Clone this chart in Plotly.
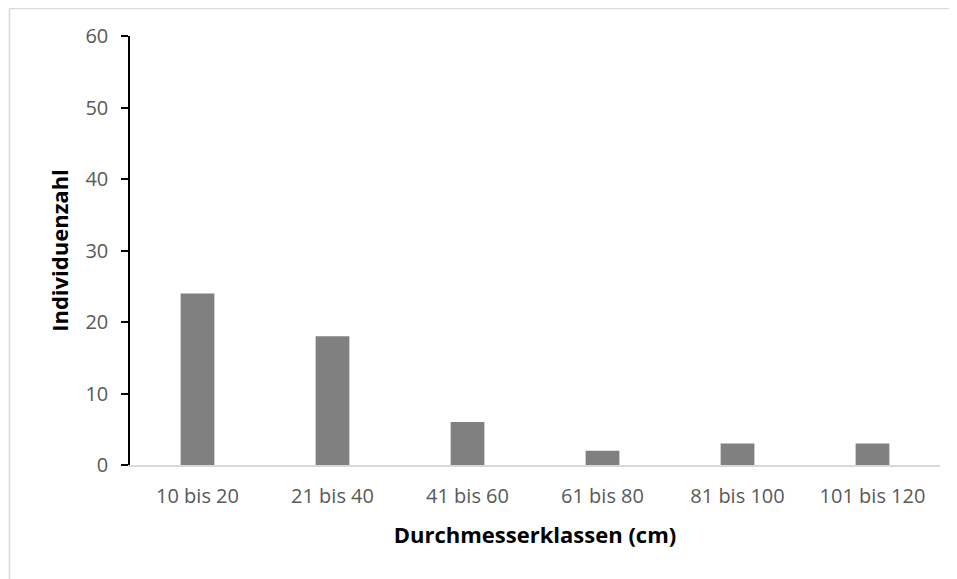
import plotly.graph_objects as go

categories = ["10 bis 20", "21 bis 40", "41 bis 60", "61 bis 80", "81 bis 100", "101 bis 120"]
counts = [24, 18, 6, 2, 3, 3]
y_ticks = [0, 10, 20, 30, 40, 50, 60]

FONT = "Open Sans, Noto Sans, sans-serif"

# page has an 8px body margin; figure coordinates are shifted accordingly
W, H = 949, 571
L, T, R, B = 122, 28, 17, 114
PW, PH = W - L - R, H - T - B

bx = -(L - 1.5) / PW
by = 1 + (T - 0.5) / PH
border = dict(color="#d9d9d9", width=1.5)

fig = go.Figure(go.Bar(x=categories, y=counts, marker_color="#808080", marker_line_width=0))

fig.update_layout(
    width=W, height=H,
    margin=dict(l=L, r=R, t=T, b=B),
    plot_bgcolor="white", paper_bgcolor="white",
    bargap=0.75,
    showlegend=False,
    font=dict(family=FONT, color="#595959", size=20),
    shapes=[
        dict(type="line", xref="paper", yref="paper", x0=bx, x1=1 + (R + 5) / PW, y0=by, y1=by,
             line=border, layer="below"),
        dict(type="line", xref="paper", yref="paper", x0=bx, x1=bx, y0=by, y1=-(B + 5) / PH,
             line=border, layer="below"),
    ],
)
fig.update_xaxes(
    showline=True, linecolor="#d9d9d9", linewidth=2, showgrid=False,
    ticks="", tickfont=dict(size=20, color="#595959"),
    ticklabelstandoff=12,
    title=dict(text="<b>Durchmesserklassen (cm)</b>", font=dict(size=22, color="black"), standoff=20),
)
fig.update_yaxes(
    range=[0, 60], tickvals=y_ticks, showline=True, linecolor="black", linewidth=1.5,
    showgrid=False, zeroline=False, ticks="outside", ticklen=7, tickcolor="black", tickwidth=1.5,
    tickfont=dict(size=20, color="#595959"), ticklabelstandoff=9,
    title=dict(text="<b>Individuenzahl</b>", font=dict(size=22, color="black"), standoff=11),
)

fig.write_html("out.html")
